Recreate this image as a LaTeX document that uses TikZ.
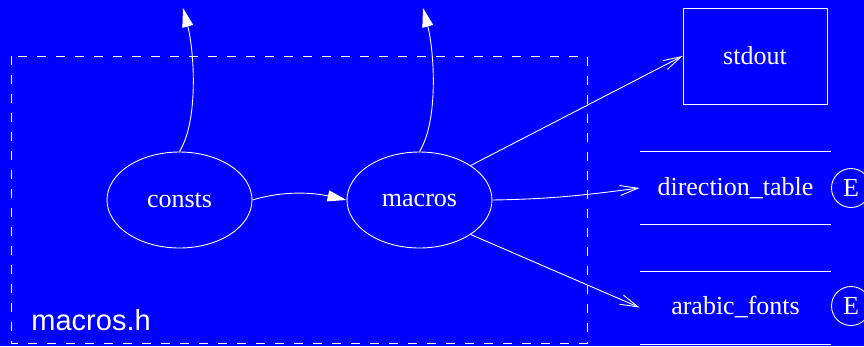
\documentclass[tikz,border=0pt]{standalone}
\usepackage{fontspec}
\setmainfont{Liberation Serif}
\setsansfont{Liberation Sans}
\usetikzlibrary{shapes.geometric,arrows.meta}
\begin{document}
\begin{tikzpicture}[x=1pt,y=-1pt,line width=0.9pt,
  ell/.style={ellipse,draw=white,minimum width=145pt,minimum height=96pt,inner sep=0pt,text=white,font=\fontsize{26}{30}\selectfont},
  tbl/.style={minimum width=191pt,minimum height=72pt,inner sep=0pt,text=white,font=\fontsize{26}{30}\selectfont},
  ebox/.style={circle,draw=white,minimum size=39pt,inner sep=0pt,text=white,font=\fontsize{26}{30}\selectfont},
  fillarrow/.style={-{Triangle[length=19pt,width=11pt]},draw=white,fill=none},
  openarrow/.style={-{Straight Barb[length=18pt,width=10pt,line width=0.9pt]},draw=white}]
\useasboundingbox (0,0) rectangle (864,346);
\clip (0,0) rectangle (864,346);
\fill[blue] (0,0) rectangle (864,346);
% cluster
\draw[white,dash pattern=on 9pt off 10pt] (11,56) rectangle (587,343);
\node[anchor=base west,inner sep=0pt,text=white,font=\sffamily\fontsize{29}{32}\selectfont] (clab) at (31,330) {macros.h};
% nodes
\node[ell] (consts) at (179.5,200) {consts};
\node[ell] (macros) at (419.5,200) {macros};
\node[draw=white,minimum width=144pt,minimum height=96pt,inner sep=0pt,text=white,font=\fontsize{26}{30}\selectfont] (stdout) at (755,56) {stdout};
\node[tbl] (dt) at (735.5,188) {direction\_table};
\node[tbl] (af) at (735.5,307.5) {arabic\_fonts};
\draw[white] (dt.north west) -- (dt.north east);
\draw[white] (dt.south west) -- (dt.south east);
\draw[white] (af.north west) -- (af.north east);
\draw[white] (af.south west) -- (af.south east);
\node[ebox] (e1) at (851,188) {E};
\node[ebox] (e2) at (851,306) {E};
\coordinate (top1) at (183,8);
\coordinate (top2) at (423,8);
% connectors
\draw[fillarrow] (consts.90) .. controls (199,120) and (194,50) .. (top1);
\draw[fillarrow] (macros.90) .. controls (439,120) and (434,50) .. (top2);
\draw[fillarrow] (consts.east) .. controls (285,190) and (315,193) .. (macros.west);
\draw[openarrow] (macros.34) -- (stdout.west);
\draw[openarrow] (macros.east) .. controls (560,199) and (600,193) .. (dt.west);
\draw[openarrow] (macros.-34) -- (af.west);
\end{tikzpicture}
\end{document}
